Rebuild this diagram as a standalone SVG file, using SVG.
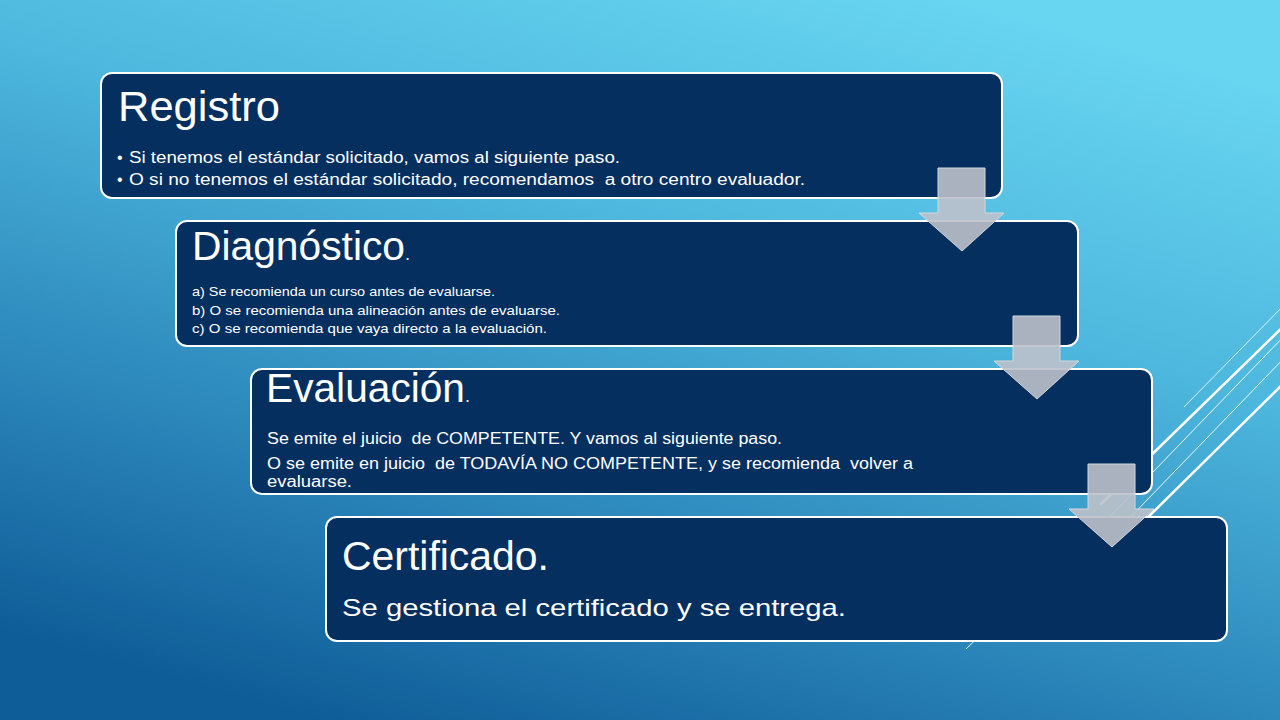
<svg xmlns="http://www.w3.org/2000/svg" width="1280" height="720" viewBox="0 0 1280 720">
<defs>
  <linearGradient id="bg" x1="0.75" y1="0" x2="0.25" y2="1">
    <stop offset="0" stop-color="#68D5F1"/>
    <stop offset="0.35" stop-color="#4DB7DD"/>
    <stop offset="0.7" stop-color="#2C87BB"/>
    <stop offset="1" stop-color="#0F5D98"/>
  </linearGradient>
  <style>
    .box { fill: #052F5F; stroke: #FFFFFF; stroke-width: 2; }
    .t { font-family: "Liberation Sans", Arial, sans-serif; fill: #FFFFFF; }
    .title { font-size: 42px; }
    .arrow { fill: #BCC1CA; fill-opacity: 0.9; stroke: #D3D7DD; stroke-width: 1; }
    .deco { stroke: #FFFFFF; fill: none; }
  </style>
</defs>
<rect x="0" y="0" width="1280" height="720" fill="url(#bg)"/>

<g id="decoration">
  <line class="deco" x1="1184" y1="407" x2="1290" y2="299" stroke-width="0.8"/>
  <line class="deco" x1="1100" y1="505" x2="1290" y2="320" stroke-width="2.5"/>
  <line class="deco" x1="1100" y1="527" x2="1290" y2="330" stroke-width="0.9"/>
  <line class="deco" x1="1120" y1="528" x2="1290" y2="352" stroke-width="0.9"/>
  <line class="deco" x1="1130" y1="535" x2="1290" y2="377" stroke-width="2.5"/>
  <line class="deco" x1="1000" y1="616" x2="966" y2="649" stroke-width="0.9"/>
</g>

<g id="node-registro">
  <rect class="box" x="101" y="73" width="901" height="125" rx="11"/>
  <text class="t title" x="118" y="121" font-size="44" textLength="162" lengthAdjust="spacingAndGlyphs">Registro</text>
  <text class="t" x="117" y="163" font-size="16">•</text>
  <text class="t" x="129" y="163" font-size="16" textLength="491" lengthAdjust="spacingAndGlyphs">Si tenemos el estándar solicitado, vamos al siguiente paso.</text>
  <text class="t" x="117" y="185" font-size="16">•</text>
  <text class="t" x="129" y="185" font-size="16" xml:space="preserve" textLength="676" lengthAdjust="spacingAndGlyphs">O si no tenemos el estándar solicitado, recomendamos  a otro centro evaluador.</text>
</g>

<g id="node-diagnostico">
  <rect class="box" x="176" y="221" width="902" height="125" rx="11"/>
  <text class="t" x="192" y="260" font-size="40"><tspan textLength="213" lengthAdjust="spacingAndGlyphs">Diagnóstico</tspan><tspan font-size="18">.</tspan></text>
  <text class="t" x="192" y="296" font-size="13" textLength="303" lengthAdjust="spacingAndGlyphs">a) Se recomienda un curso antes de evaluarse.</text>
  <text class="t" x="192" y="315" font-size="13" textLength="368" lengthAdjust="spacingAndGlyphs">b) O se recomienda una alineación antes de evaluarse.</text>
  <text class="t" x="192" y="333" font-size="13" textLength="355" lengthAdjust="spacingAndGlyphs">c) O se recomienda que vaya directo a la evaluación.</text>
</g>

<g id="node-evaluacion">
  <rect class="box" x="251" y="369" width="901" height="125" rx="11"/>
  <text class="t" x="266" y="402" font-size="40"><tspan textLength="199" lengthAdjust="spacingAndGlyphs">Evaluación</tspan><tspan font-size="18">.</tspan></text>
  <text class="t" x="267" y="444" font-size="16" xml:space="preserve" textLength="515" lengthAdjust="spacingAndGlyphs">Se emite el juicio  de COMPETENTE. Y vamos al siguiente paso.</text>
  <text class="t" x="267" y="469" font-size="16" xml:space="preserve" textLength="646" lengthAdjust="spacingAndGlyphs">O se emite en juicio  de TODAVÍA NO COMPETENTE, y se recomienda  volver a</text>
  <text class="t" x="267" y="487" font-size="16" textLength="85" lengthAdjust="spacingAndGlyphs">evaluarse.</text>
</g>

<g id="node-certificado">
  <rect class="box" x="326" y="517" width="901" height="124" rx="11"/>
  <text class="t" x="342" y="570" font-size="40" textLength="207" lengthAdjust="spacingAndGlyphs">Certificado.</text>
  <text class="t" x="342" y="616" font-size="24" textLength="504" lengthAdjust="spacingAndGlyphs">Se gestiona el certificado y se entrega.</text>
</g>

<g id="connectors">
  <polygon class="arrow" points="938,168 985,168 985,213 1004,213 962,251 919,213 938,213"/>
  <polygon class="arrow" points="1013,316 1060,316 1060,361 1079,361 1037,399 994,361 1013,361"/>
  <polygon class="arrow" points="1088,464 1135,464 1135,509 1154,509 1112,547 1069,509 1088,509"/>
</g>
</svg>
